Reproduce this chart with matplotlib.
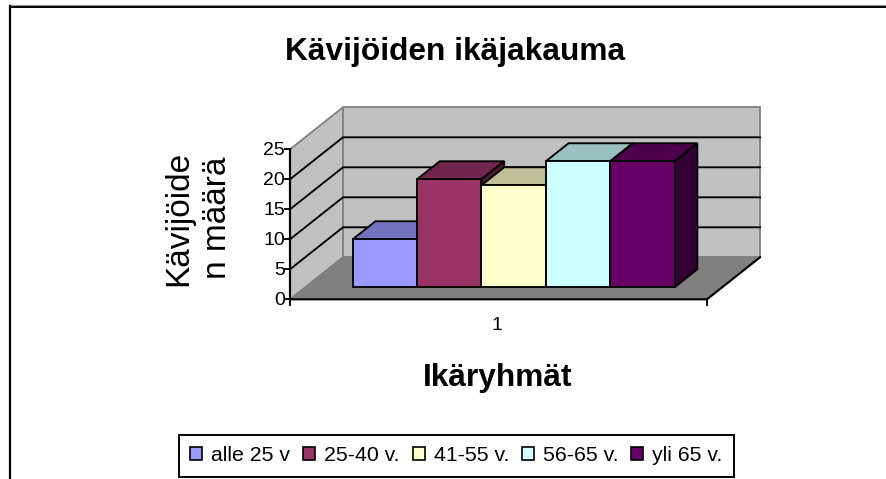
import matplotlib
matplotlib.use("Agg")
import matplotlib.pyplot as plt
from matplotlib.patches import Polygon, Patch

plt.rcParams['font.family'] = ['Liberation Sans', 'DejaVu Sans']

# ---- data ----
title = "Kävijöiden ikäjakauma"
ylabel = "Kävijöide\nn määrä"
xlabel = "Ikäryhmät"
categories = ["1"]
series_names = ["alle 25 v", "25-40 v.", "41-55 v.", "56-65 v.", "yli 65 v."]
series_values = [8, 18, 17, 21, 21]
yticks = [0, 5, 10, 15, 20, 25]
series_colors = ["#9999FF", "#993366", "#FFFFCC", "#CCFFFF", "#660066"]

# ---- layout (pixels) ----
W, H = 887, 479
X0, Y0 = 290.0, 299.3      # front-left floor corner
PW = 417.0                 # plot width
DX, DY = 53.0, 42.0        # depth offset
YSCALE = 6.0               # pixels per value unit
YMAX = yticks[-1]
BAR_W = 0.1544             # bar width as fraction of plot width
Z0, Z1 = 0.285, 0.715      # bar depth extent

def P(u, v, z):
    """Project (category fraction, value, depth fraction) to pixel coordinates."""
    return (X0 + u * PW + z * DX, Y0 - v * YSCALE - z * DY)

def shade(color, f):
    r, g, b = matplotlib.colors.to_rgb(color)
    return (r * f, g * f, b * f)

fig = plt.figure(figsize=(W / 100, H / 100), dpi=100, facecolor="white")
ax = fig.add_axes([0, 0, 1, 1])
ax.set_xlim(0, W)
ax.set_ylim(H, 0)
ax.axis("off")

BLACK_LW = 1.35
GRAY = "#808080"

def poly(pts, fc, ec, lw, z=2):
    ax.add_patch(Polygon(pts, closed=True, facecolor=fc, edgecolor=ec, lw=lw,
                         joinstyle="miter", zorder=z))

# outer chart frame (clipped by the picture)
ax.plot([9.5, W], [5.3, 5.3], color="#999999", lw=0.9, zorder=1)
ax.plot([10, W], [6.6, 6.6], color="black", lw=1.4, zorder=1)
ax.plot([10, 10], [6, H], color="black", lw=1.6, zorder=1)

# walls and floor
poly([P(0, 0, 1), P(1, 0, 1), P(1, YMAX, 1), P(0, YMAX, 1)], "#C0C0C0", GRAY, 1.3)
poly([P(0, 0, 0), P(0, 0, 1), P(0, YMAX, 1), P(0, YMAX, 0)], "#C0C0C0", GRAY, 1.3)
poly([P(0, 0, 0), P(1, 0, 0), P(1, 0, 1), P(0, 0, 1)], GRAY, GRAY, 0.8)

# gridlines
for v in yticks[1:-1]:
    a, b, c = P(0, v, 0), P(0, v, 1), P(1, v, 1)
    ax.plot([a[0], b[0], c[0]], [a[1], b[1], c[1]], color="black", lw=BLACK_LW,
            zorder=3, solid_joinstyle="miter")

# axes
a, b, c, d = P(0, YMAX, 0), P(0, 0, 0), P(1, 0, 0), P(1, 0, 1)
ax.plot([a[0], b[0], c[0], d[0]], [a[1], b[1], c[1], d[1]], color="black",
        lw=BLACK_LW + 0.2, zorder=4, solid_joinstyle="miter")
for v in yticks:
    p = P(0, v, 0)
    ax.plot([p[0] - 5, p[0]], [p[1], p[1]], color="black", lw=BLACK_LW, zorder=4)
    ax.text(p[0] - 5, p[1] + 1.5, str(v), ha="right", va="center", fontsize=14, color="black")
for u in (0, 1):
    p = P(u, 0, 0)
    ax.plot([p[0], p[0]], [p[1], p[1] + 6], color="black", lw=BLACK_LW, zorder=4)

# bars
start = (1 - BAR_W * len(series_values)) / 2
for i, (val, col) in enumerate(zip(series_values, series_colors)):
    u0, u1 = start + i * BAR_W, start + (i + 1) * BAR_W
    z = 5 + i
    poly([P(u0, val, Z0), P(u1, val, Z0), P(u1, val, Z1), P(u0, val, Z1)],
         shade(col, 0.75), "black", BLACK_LW, z)
    poly([P(u1, 0, Z0), P(u1, val, Z0), P(u1, val, Z1), P(u1, 0, Z1)],
         shade(col, 0.5), "black", BLACK_LW, z)
    poly([P(u0, 0, Z0), P(u1, 0, Z0), P(u1, val, Z0), P(u0, val, Z0)],
         col, "black", BLACK_LW, z)

# texts
ax.text(455.5, 51.5, title, ha="center", va="center", fontsize=22.8, fontweight="bold")
ax.text(198, 218, ylabel, ha="center", va="center", rotation=90, fontsize=24,
        multialignment="center", linespacing=1.32)
ax.text(497, 325.5, categories[0], ha="center", va="center", fontsize=14)
ax.text(497.5, 378, xlabel, ha="center", va="center", fontsize=22.8, fontweight="bold")

# legend
handles = [Patch(facecolor=c, edgecolor="black", lw=1.2, label=n)
           for c, n in zip(series_colors, series_names)]
leg = ax.legend(handles=handles, ncol=5, loc="center", bbox_to_anchor=(456.5, 455.7),
                bbox_transform=ax.transData, fontsize=15.3, frameon=True, fancybox=False,
                edgecolor="black", framealpha=1, borderpad=0.54, handlelength=0.565,
                handleheight=0.565, handletextpad=0.42, columnspacing=0.61,
                borderaxespad=0)
leg.get_frame().set_linewidth(1.4)
leg.set_zorder(20)

fig.savefig("out.png", dpi=100)
